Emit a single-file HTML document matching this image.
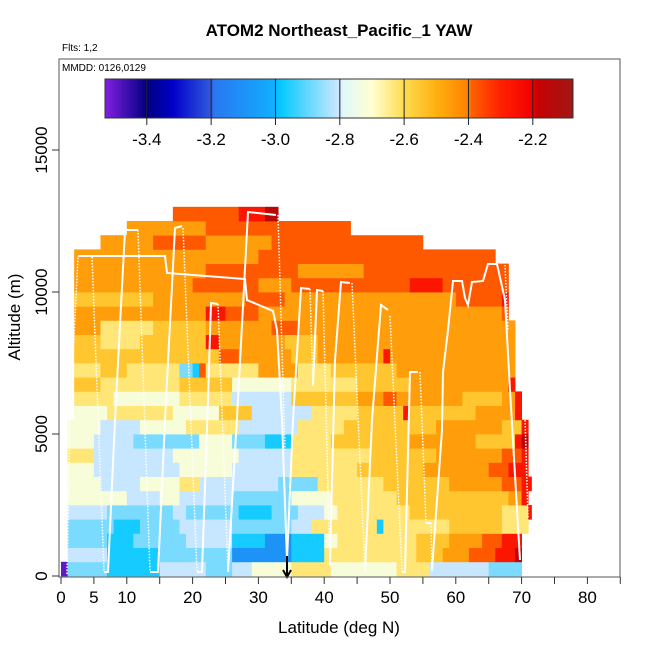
<!DOCTYPE html>
<html><head><meta charset="utf-8"><style>
html,body{margin:0;padding:0;background:#fff;}
svg{display:block;font-family:"Liberation Sans",Arial,sans-serif;}
</style></head><body>
<svg id="chart" width="650" height="650" viewBox="0 0 650 650">
<text x="339" y="36" text-anchor="middle" font-size="17" font-weight="bold">ATOM2 Northeast_Pacific_1 YAW</text>
<text x="62" y="51" font-size="10">Flts: 1,2</text>
<g id="heat"></g>
<g id="track"></g>
<rect x="59" y="59" width="561" height="518" fill="none" stroke="#555" stroke-width="1"/>
<text x="62" y="71" font-size="10">MMDD: 0126,0129</text>
<g id="cbar"></g>
<g id="axes"></g>
<text x="339" y="633" text-anchor="middle" font-size="17">Latitude (deg N)</text>
<text transform="translate(20,317) rotate(-90)" text-anchor="middle" font-size="17">Altitude (m)</text>
</svg>
<script>
// ---- data ----
const latTicks = [0,5,10,20,30,40,50,60,70,80];
const altTicks = [0,5000,10000,15000];
const cbarTicks = [-3.4,-3.2,-3.0,-2.8,-2.6,-2.4,-2.2];
const codeValues = {p:-3.5,'0':-3.1,'1':-2.97,'2':-2.88,'3':-2.81,'4':-2.72,'5':-2.63,'6':-2.55,'7':-2.46,'8':-2.38,'9':-2.27,x:-2.15};
const altBinSize = 500;
const maxLat = 71.5;
// rows bottom (0 m) to top; run-length "codeCount" tokens, one column per degree latitude
const rows = [
"p1 2x6 1x8 3x7 2x4 3x3 4x6 5x6 4x10 5x5 3x9 2x5",
".1 3x6 1x8 2x11 0x9 1x5 5x14 6x4 7x4 8x4 9x3 xx1",
".1 2x6 1x4 2x8 3x7 1x5 0x4 1x5 4x2 5x12 6x5 7x5 8x3 9x3",
".1 2x7 1x4 2x6 3x8 2x9 3x3 5x10 1x1 5x10 6x8 5x4",
".1 3x6 2x10 3x2 2x8 1x5 2x4 3x4 4x2 5x11 6x14 5x4 9x1",
".1 4x9 3x5 4x3 3x8 2x9 4x6 5x10 6x17 7x2 9x1",
".1 4x5 3x6 4x6 5x3 3x5 3x7 2x6 5x10 6x10 7x8 8x3 9x2",
".1 4x4 3x13 4x8 3x9 5x10 6x10 7x10 8x3 9x3",
".1 5x4 3x12 4x10 3x8 5x12 6x10 7x10 8x3 9x1",
".1 4x4 3x6 2x10 4x5 2x5 1x4 5x6 6x12 7x10 6x6 9x1 xx1",
".1 4x5 3x6 4x7 5x8 3x9 5x7 6x14 7x10 6x3 9x1",
".2 4x5 5x10 4x7 6x5 3x9 5x7 6x7 9x1 6x10 7x6 9x1",
".2 5x6 4x10 5x8 3x9 6x10 7x4 8x2 7x10 6x6 7x2 9x1",
".2 6x4 5x12 6x8 4x9 5x10 6x8 7x15 9x1",
".2 5x4 6x4 5x8 2x2 1x1 8x1 5x8 7x6 5x5 6x10 7x18",
".2 6x22 8x3 7x8 6x4 7x10 9x1 7x19",
".2 6x4 5x6 6x10 9x2 7x10 6x5 7x30",
".2 7x4 5x8 6x8 7x10 8x4 7x33",
".2 7x20 9x3 8x5 7x37 8x1",
".2 6x12 7x14 8x6 7x26 8x7 9x1",
".2 7x18 8x10 7x5 8x18 9x5 8x10",
".2 7x20 8x14 7x10 8x22",
".2 7x28 8x36",
".6 7x8 8x8 7x10 8x23",
".10 7x12 8x22",
".17 8x10 9x4 xx2"
];
// ---- scales ----
const X0=61, XPD=6.58, Y0=576, YPM=0.0284;
const xs = lat => X0 + lat*XPD;
const ys = alt => Y0 - alt*YPM;
const CB0=105, CB1=573, CBV0=-3.53, CBV1=-2.075;
const cbx = v => CB0 + (v-CBV0)/(CBV1-CBV0)*(CB1-CB0);
const stops = [[-3.53,[128,32,224]],[-3.4,[0,0,128]],[-3.32,[0,0,200]],[-3.2,[48,90,220]],[-3.19,[40,120,240]],[-3.0,[16,176,255]],[-2.99,[0,200,255]],[-2.8,[210,232,255]],[-2.79,[224,248,248]],[-2.7,[255,255,208]],[-2.6,[255,220,80]],[-2.5,[255,176,16]],[-2.4,[255,128,0]],[-2.39,[255,96,0]],[-2.3,[255,32,0]],[-2.2,[240,0,0]],[-2.19,[200,0,0]],[-2.075,[160,24,24]]];
function color(v){
  if(v<=stops[0][0]) return 'rgb('+stops[0][1]+')';
  for(let i=1;i<stops.length;i++){
    if(v<=stops[i][0]){
      const a=stops[i-1],b=stops[i],t=(v-a[0])/(b[0]-a[0]);
      const c=a[1].map((q,k)=>Math.round(q+(b[1][k]-q)*t));
      return 'rgb('+c.join(',')+')';
    }
  }
  return 'rgb('+stops[stops.length-1][1]+')';
}
const NS='http://www.w3.org/2000/svg';
function mk(tag,attrs,parent){const e=document.createElementNS(NS,tag);for(const k in attrs)e.setAttribute(k,attrs[k]);parent.appendChild(e);return e;}
// ---- heatmap ----
const heat=document.getElementById('heat');
rows.forEach((r,ri)=>{
  let col=0;
  r.split(' ').forEach(tok=>{
    const c=tok[0]; const n=parseInt(tok.slice(tok[1]==='x'?2:1));
    const end=Math.min(col+n,maxLat);
    if(c!=='.' && end>col){
      const x1=xs(col), x2=xs(end);
      const el=mk('rect',{x:x1.toFixed(2),y:ys((ri+1)*altBinSize).toFixed(2),width:(x2-x1+0.4).toFixed(2),height:(altBinSize*YPM+0.4).toFixed(2),fill:color(codeValues[c])},heat);
      
      
    }
    col+=n;
  });
});
// ---- flight track (pixel sketch) ----
const track=document.getElementById('track');
const solid=[
"78,256 165,256 167,273 245,279 247,300 273,311 277,330 282,420 287,560",
"104,572 108,572 115,420 125,230 138,230",
"150,572 158,572 166,400 175,228 182,226",
"197,572 202,572 208,400 211,303 218,304",
"228,572 238,400 248,212 276,215",
"287,560 293,420 301,288 310,289",
"313,386 317,290 323,291",
"330,565 335,360 341,282 350,283",
"365,572 372,420 381,305 388,310",
"402,572 405,572 410,372 418,372",
"426,523 431,523",
"432,570 442,430 443,372 448,330 453,281 462,281 465,298 468,305 472,282 483,281 488,264 497,264",
"497,264 505,300 510,390 520,560",
"523,415 527,417"];
const dotted=[
"67,574 70,420 78,256","92,257 104,572","138,230 150,572","183,228 197,572","218,304 228,572",
"278,215 285,450","310,289 313,386","323,291 330,567","352,283 365,572","390,316 402,572",
"420,372 426,523","431,523 432,572","505,265 508,330","525,417 528,518"];
solid.forEach(p=>{const e=mk('polyline',{points:p,fill:'none',stroke:'#fff','stroke-width':2},track);
  
  });
dotted.forEach(p=>{const e=mk('polyline',{points:p,fill:'none',stroke:'#fff','stroke-width':1.5,'stroke-dasharray':'1.5,1.5'},track);
  
  });
const arr=mk('path',{d:'M287,556 L287,576 M283,570 L287,577 L291,570',stroke:'#000','stroke-width':2,fill:'none'},track);


// ---- colorbar ----
const cb=document.getElementById('cbar');
for(let i=0;i<234;i++){
  const v=CBV0+(i+0.5)/234*(CBV1-CBV0);
  const e=mk('rect',{x:(CB0+i*2).toFixed(1),y:79,width:2.4,height:39,fill:color(v)},cb);
  
  
}
mk('rect',{x:CB0,y:79,width:CB1-CB0,height:39,fill:'none',stroke:'#333','stroke-width':1},cb);
cbarTicks.forEach(v=>{
  const x=cbx(v);
  const l=mk('line',{x1:x,x2:x,y1:79,y2:125,stroke:'#222','stroke-width':1},cb);
  
  
  const t=mk('text',{x:x,y:145,'text-anchor':'middle','font-size':17},cb);
  t.textContent=v.toFixed(1);
  
  
});
// ---- axes ----
const ax=document.getElementById('axes');
for(let lat=0;lat<=85;lat+=5){
  const x=xs(lat);
  const l=mk('line',{x1:x,x2:x,y1:577,y2:584,stroke:'#333'},ax);
  
  
}
latTicks.forEach(v=>{
  const t=mk('text',{x:xs(v),y:603,'text-anchor':'middle','font-size':17},ax);
  t.textContent=v;
  
  
});
altTicks.forEach(v=>{
  const y=ys(v);
  const l=mk('line',{x1:52,x2:59,y1:y,y2:y,stroke:'#333'},ax);
  
  
  const t=mk('text',{transform:'translate(47,'+y+') rotate(-90)','text-anchor':'middle','font-size':17},ax);
  t.textContent=v;
  
  
});
</script>
</body></html>
